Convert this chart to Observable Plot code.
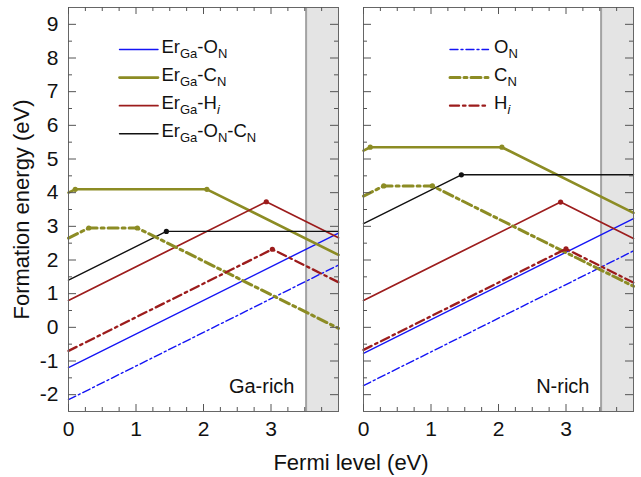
<!DOCTYPE html>
<html><head><meta charset="utf-8">
<script src="https://cdn.jsdelivr.net/npm/d3@7"></script>
<script src="https://cdn.jsdelivr.net/npm/@observablehq/plot@0.6"></script>
<style>body{margin:0;background:#fff}</style>
</head><body><div id="chart"></div>
<script>
// ---------- data ----------
const panels = ["Ga-rich", "N-rich"];
const seriesKeys = ["ErGa-ON", "ErGa-CN", "ErGa-Hi", "ErGa-ON-CN", "ON", "CN", "Hi"];
const legendLabels = ["Er_{Ga}-O_{N}", "Er_{Ga}-C_{N}", "Er_{Ga}-H_{/i/}", "Er_{Ga}-O_{N}-C_{N}", "O_{N}", "C_{N}", "H_{/i/}"];
const legendPanel = ["Ga-rich", "Ga-rich", "Ga-rich", "Ga-rich", "N-rich", "N-rich", "N-rich"];
const legendRow = [0, 1, 2, 3, 0, 1, 2];
const bandGap = 3.52;
const xMax = 4;
const xTickLabels = [0, 1, 2, 3];
const yTickLabels = [-2, -1, 0, 1, 2, 3, 4, 5, 6, 7, 8, 9];
const xMinor = [0.25, 0.5, 0.75, 1.25, 1.5, 1.75, 2.25, 2.5, 2.75, 3.25, 3.5, 3.75];
const yMinor = [-1.5, -0.5, 0.5, 1.5, 2.5, 3.5, 4.5, 5.5, 6.5, 7.5, 8.5];
// Ga-rich: [Fermi level, formation energy] vertices
const gaErON = [[0, -1.2], [4, 2.8]];
const gaErCN = [[0, 4.0], [0.1, 4.1], [2.05, 4.1], [4, 2.15]];
const gaErHi = [[0, 0.8], [2.93, 3.73], [4, 2.66]];
const gaErOC = [[0, 1.4], [1.45, 2.85], [4, 2.85]];
const gaON = [[0, -2.15], [4, 1.85]];
const gaCN = [[0, 2.65], [0.3, 2.95], [1.02, 2.95], [4, -0.03]];
const gaHi = [[0, -0.7], [3.02, 2.32], [4, 1.34]];
// N-rich
const nErON = [[0, -0.77], [4, 3.23]];
const nErCN = [[0, 5.25], [0.1, 5.35], [2.05, 5.35], [4, 3.4]];
const nErHi = [[0, 0.8], [2.92, 3.72], [4, 2.64]];
const nErOC = [[0, 3.08], [1.45, 4.53], [4, 4.53]];
const nON = [[0, -1.73], [4, 2.27]];
const nCN = [[0, 3.9], [0.3, 4.2], [1.02, 4.2], [4, 1.22]];
const nHi = [[0, -0.67], [3.0, 2.33], [4, 1.33]];

// ---------- styles ----------
const BLUE = "#1414f5", OLIVE = "#8c8c24", RED = "#9c1c1c", BLACK = "#111";
const styles = {
  "ErGa-ON": {stroke: BLUE, strokeWidth: 1.4},
  "ErGa-CN": {stroke: OLIVE, strokeWidth: 2.6},
  "ErGa-Hi": {stroke: RED, strokeWidth: 1.7},
  "ErGa-ON-CN": {stroke: BLACK, strokeWidth: 1.4},
  "ON": {stroke: BLUE, strokeWidth: 1.4, strokeDasharray: "8,3,2,3"},
  "CN": {stroke: OLIVE, strokeWidth: 3, strokeDasharray: "10,4,3,4"},
  "Hi": {stroke: RED, strokeWidth: 2.3, strokeDasharray: "9,4,2.5,4"}
};

// ---------- table ----------
const sets = {
  "Ga-rich": [gaErON, gaErCN, gaErHi, gaErOC, gaON, gaCN, gaHi],
  "N-rich": [nErON, nErCN, nErHi, nErOC, nON, nCN, nHi]
};
const rows = [];
for (const p of panels) {
  sets[p].forEach((pts, i) => {
    pts.forEach(([x, y], j) => rows.push({panel: p, series: seriesKeys[i], x, y, kink: j > 0 && j < pts.length - 1}));
  });
}
const legend = legendLabels.map((label, i) => ({label, panel: legendPanel[i], row: legendRow[i], series: seriesKeys[i]}));

// ---------- layout ----------
const W = 641, H = 477, mL = 68, mR = 8, mT = 7, mB = 66;
const facetW = 270, facetH = H - mT - mB;
const gap = 25;
const lineShape = {draw(ctx, l) { ctx.moveTo(0, 0); ctx.lineTo(0, -l); }};
const fmt = d => String(d);

const marks = [
  Plot.rect([{x1: bandGap, x2: xMax}], {x1: "x1", x2: "x2", fill: "#e4e4e4"}),
  Plot.ruleX([bandGap], {stroke: "#a3a3a3", strokeWidth: 2})
];
for (const s of seriesKeys) {
  marks.push(Plot.line(rows.filter(d => d.series === s), {x: "x", y: "y", fx: "panel", ...styles[s]}));
}
for (const s of seriesKeys) {
  marks.push(Plot.dot(rows.filter(d => d.series === s && d.kink), {x: "x", y: "y", fx: "panel", r: 2.6, fill: styles[s].stroke, stroke: "none"}));
}
marks.push(
  Plot.frame({stroke: "#666", strokeWidth: 1}),
  Plot.tickY(yTickLabels, {insetRight: facetW - 8, stroke: "#555"}),
  Plot.tickY(yTickLabels, {insetLeft: facetW - 8, stroke: "#555"}),
  Plot.tickY(yMinor, {insetRight: facetW - 4, stroke: "#555"}),
  Plot.tickY(yMinor, {insetLeft: facetW - 4, stroke: "#555"}),
  Plot.tickX(xTickLabels, {insetBottom: facetH - 7, stroke: "#555"}),
  Plot.tickX(xTickLabels, {insetTop: facetH - 7, stroke: "#555"}),
  Plot.tickX(xMinor, {insetBottom: facetH - 4, stroke: "#555"}),
  Plot.tickX(xMinor, {insetTop: facetH - 4, stroke: "#555"}),
  Plot.text(panels, {fx: d => d, text: d => d, frameAnchor: "bottom-right", textAnchor: "end", lineAnchor: "bottom", dx: -44, dy: -19, fontSize: 20, fill: "#111"})
);
for (const item of legend) {
  const left = item.panel === "Ga-rich";
  const y = 42 + 28.1 * item.row;
  marks.push(Plot.vector([item], {fx: "panel", frameAnchor: "top-left", dx: left ? 51 : 86.5, dy: y, length: 38.5, rotate: 90, anchor: "start", shape: lineShape, ...styles[item.series], strokeWidth: Math.min(styles[item.series].strokeWidth, 3)}));
  marks.push(Plot.text([item], {fx: "panel", frameAnchor: "top-left", textAnchor: "start", lineAnchor: "middle", dx: left ? 93 : 130.5, dy: y - 2.8, text: "label", fontSize: 18.5, fill: "#111"}));
}

const chart = Plot.plot({
  width: W, height: H,
  marginLeft: mL, marginRight: mR, marginTop: mT, marginBottom: mB,
  style: {fontFamily: "'Liberation Sans', Arial, sans-serif", fontSize: "21px", color: "#111", background: "#fff"},
  fx: {domain: panels, paddingInner: gap / (facetW + gap), paddingOuter: 0, round: false, axis: null, label: null},
  x: {domain: [0, xMax], ticks: xTickLabels, tickFormat: fmt, tickSize: 0, tickPadding: 10, label: "Fermi level (eV)", labelAnchor: "center", labelOffset: 58, labelArrow: "none"},
  y: {domain: [-2.5, 9.5], ticks: yTickLabels, tickFormat: fmt, tickSize: 0, tickPadding: 10, label: "Formation energy (eV)", labelAnchor: "center", labelOffset: 55, labelArrow: "none"},
  marks
});
document.getElementById("chart").appendChild(chart);

// rich text (subscripts) for legend labels
const NS = "http://www.w3.org/2000/svg";
d3.select(chart).selectAll("text").filter(function () { return this.textContent.includes("_{"); }).each(function () {
  const src = this.textContent;
  while (this.firstChild) this.removeChild(this.firstChild);
  const re = /_\{([^}]*)\}/g;
  let last = 0, m, shifted = false;
  const add = (s, sub) => {
    const t = document.createElementNS(NS, "tspan");
    if (sub) {
      if (s.startsWith("/")) { s = s.slice(1, -1); t.setAttribute("font-style", "italic"); }
      t.setAttribute("font-size", "13");
      t.setAttribute("dy", "5");
      shifted = true;
    } else if (shifted) {
      t.setAttribute("dy", "-5");
      shifted = false;
    }
    t.textContent = s;
    this.appendChild(t);
  };
  while ((m = re.exec(src))) {
    if (m.index > last) add(src.slice(last, m.index), false);
    add(m[1], true);
    last = re.lastIndex;
  }
  if (last < src.length) add(src.slice(last), false);
});
// axis title sizes
d3.select(chart).selectAll('g[aria-label="x-axis label"] text, g[aria-label="y-axis label"] text').attr("font-size", 22);
</script>
</body></html>
